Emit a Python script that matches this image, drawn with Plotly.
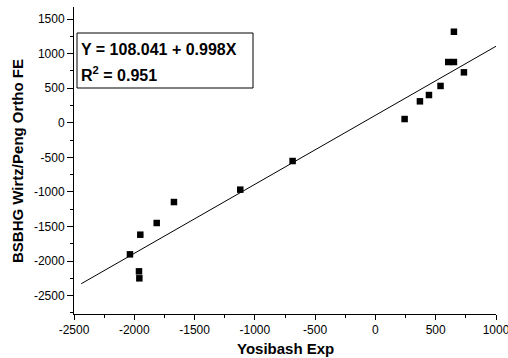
import plotly.graph_objects as go

# Data
exp_x = [-2036, -1961, -1958, -1950, -1814, -1671, -1121, -687, 242, 369, 444, 540, 604, 651, 651, 734]
fe_y = [-1902, -2148, -2249, -1618, -1449, -1146, -967, -553, 54, 310, 401, 532, 878, 878, 1316, 729]

fit_intercept = 108.041
fit_slope = 0.998
fit_x = [-2440, 1000]
fit_y = [fit_intercept + fit_slope * v for v in fit_x]

x_ticks = [-2500, -2000, -1500, -1000, -500, 0, 500, 1000]
x_tick_labels = ["-2500", "-2000", "-1500", "-1000", "-500", "0", "500", "1000"]
y_ticks = [-2500, -2000, -1500, -1000, -500, 0, 500, 1000, 1500]
y_tick_labels = ["-2500", "-2000", "-1500", "-1000", "-500", "0", "500", "1000", "1500"]

FONT = "Liberation Sans, Arial, sans-serif"

fig = go.Figure()
fig.add_trace(go.Scatter(x=fit_x, y=fit_y, mode="lines",
                         line=dict(color="black", width=1), showlegend=False))
fig.add_trace(go.Scatter(x=exp_x, y=fe_y, mode="markers",
                         marker=dict(symbol="square", size=6.5, color="black"),
                         showlegend=False))

fig.update_layout(
    width=508, height=358,
    margin=dict(l=74, r=12, t=7, b=44, autoexpand=False),
    paper_bgcolor="white", plot_bgcolor="white",
    font=dict(family=FONT, color="black", size=12),
    xaxis=dict(range=[-2500, 1000], tickvals=x_ticks, ticktext=x_tick_labels,
               showgrid=False, zeroline=False, automargin=False,
               ticklabeloverflow="allow",
               showline=True, linecolor="black", linewidth=1,
               ticks="outside", ticklen=5, tickcolor="black",
               minor=dict(dtick=250, tick0=0, ticks="outside", ticklen=3, tickcolor="black"),
               tickfont=dict(size=12)),
    yaxis=dict(range=[-2764.6, 1673.5], tickvals=y_ticks, ticktext=y_tick_labels,
               showgrid=False, zeroline=False, automargin=False,
               ticklabeloverflow="allow",
               showline=True, linecolor="black", linewidth=1,
               ticks="outside", ticklen=6, tickcolor="black",
               minor=dict(dtick=250, tick0=0, ticks="outside", ticklen=3, tickcolor="black"),
               tickfont=dict(size=12)),
)

H = 307.0
W = 422.0
def px_x(p):
    return (p - 74) / W
def px_y(p):
    return (314 - p) / H

# Axis titles
fig.add_annotation(xref="paper", yref="paper", x=px_x(285), y=px_y(348),
                   xanchor="center", yanchor="middle", showarrow=False,
                   text="<b>Yosibash Exp</b>", font=dict(size=15, family=FONT))
fig.add_annotation(xref="paper", yref="paper", x=px_x(17), y=px_y(161),
                   xanchor="center", yanchor="middle", showarrow=False, textangle=-90,
                   text="<b>BSBHG Wirtz/Peng Ortho FE</b>", font=dict(size=15, family=FONT))

# Equation box
fig.add_shape(type="rect", xref="paper", yref="paper",
              x0=px_x(77), x1=px_x(253), y0=px_y(88), y1=px_y(33),
              line=dict(color="black", width=1), fillcolor="white")
fig.add_annotation(xref="paper", yref="paper", x=px_x(79), y=px_y(50),
                   xanchor="left", yanchor="middle", showarrow=False,
                   text="<b>Y = 108.041 + 0.998X</b>", font=dict(size=16, family=FONT))
fig.add_annotation(xref="paper", yref="paper", x=px_x(79), y=px_y(74),
                   xanchor="left", yanchor="middle", showarrow=False,
                   text="<b>R<sup>2</sup> = 0.951</b>", font=dict(size=16, family=FONT))

fig.write_html("out.html", config={"displayModeBar": False},
               post_script="document.body.style.margin='0';")
